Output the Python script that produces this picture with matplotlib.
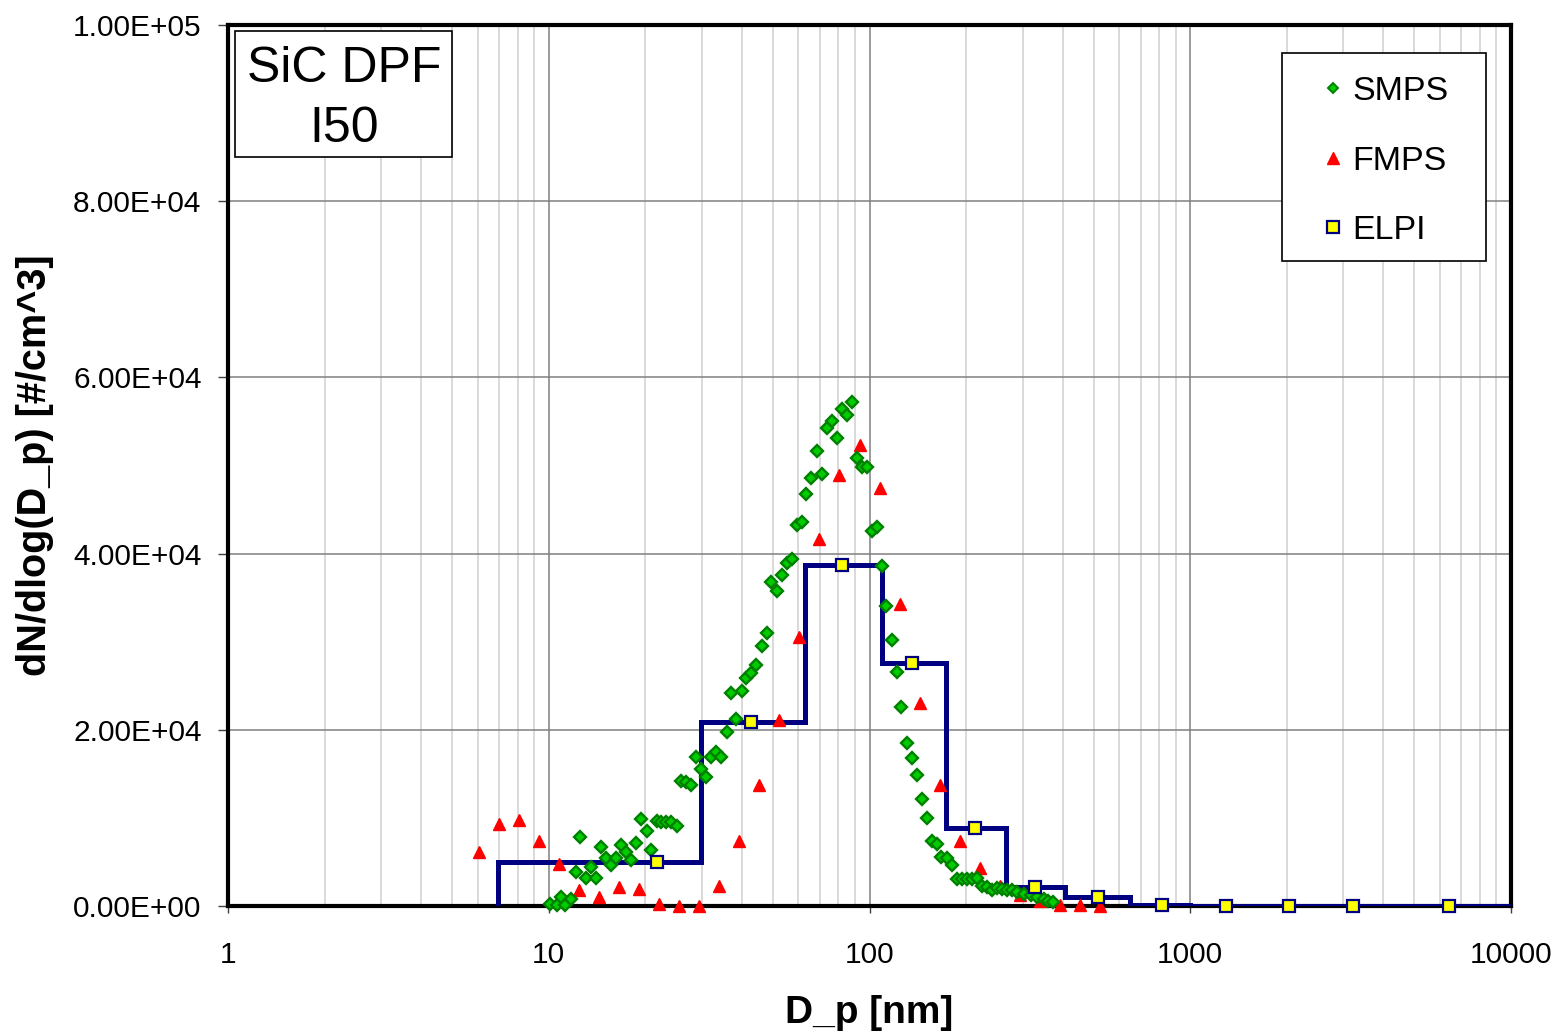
import matplotlib
matplotlib.use("Agg")
import matplotlib.pyplot as plt
from matplotlib.lines import Line2D
from matplotlib.patches import Rectangle
from matplotlib.ticker import FixedLocator, FuncFormatter, NullFormatter, LogLocator

plt.rcParams['font.family'] = ['Liberation Sans', 'DejaVu Sans']

# ---------------- data ----------------
smps_dp = [10.09, 10.59, 10.90, 11.24, 11.77, 12.14, 12.52, 13.04, 13.52, 14.01,
           14.53, 15.06, 15.61, 16.26, 16.77, 17.47, 18.02, 18.77, 19.45, 20.21,
           20.80, 21.71, 22.46, 23.17, 24.01, 25.06, 25.79, 26.74, 27.86, 28.88,
           29.93, 31.02, 32.00, 33.33, 34.55, 35.89, 36.93, 38.48, 39.97, 41.34,
           42.85, 44.42, 46.14, 47.83, 49.47, 51.38, 53.26, 55.21, 57.52, 59.32,
           61.49, 63.60, 65.92, 68.47, 70.98, 73.57, 76.66, 79.07, 81.96, 84.95,
           88.49, 91.27, 94.59, 98.04, 101.6, 105.3, 109.2, 112.9, 117.3, 121.6,
           125.8, 131.3, 135.4, 141.1, 145.5, 151.6, 156.1, 162.1, 167.6, 175.0,
           181.4, 187.1, 193.9, 201.0, 208.4, 216.0, 223.9, 232.1, 240.5, 249.3,
           258.4, 269.2, 279.0, 289.3, 302.6, 318.2, 333.9, 349.4, 360.0, 372.0]
smps_val = [200, 100, 1000, 100, 800, 3900, 7800, 3200, 4400, 3200,
            6700, 5500, 4700, 5400, 6900, 6100, 5200, 7100, 9900, 8500,
            6400, 9600, 9500, 9500, 9500, 9100, 14200, 14100, 13700, 16900,
            15600, 14600, 16900, 17500, 16900, 19800, 24200, 21200, 24400, 25900,
            26400, 27400, 29500, 31000, 36800, 35800, 37600, 38900, 39400, 43200,
            43600, 46800, 48600, 51600, 49000, 54300, 55100, 53100, 56400, 55700,
            57200, 50800, 49800, 49800, 42600, 43000, 38600, 34000, 30200, 26600,
            22600, 18500, 16800, 14900, 12200, 10000, 7400, 7000, 5600, 5500,
            4600, 3100, 3100, 3100, 3100, 3200, 2300, 2100, 1800, 2000,
            1900, 1800, 1800, 1600, 1400, 1200, 1000, 800, 600, 400]

fmps_dp = [6.04, 6.98, 8.06, 9.31, 10.8, 12.4, 14.3, 16.5, 19.1, 22.1, 25.5, 29.4,
           34.0, 39.2, 45.3, 52.3, 60.4, 69.8, 80.6, 93.1, 107.5, 124.1, 143.3,
           165.5, 191.1, 220.7, 254.8, 294.3, 339.8, 392.4, 453.2, 523.3]
fmps_val = [6100, 9300, 9800, 7400, 4800, 1800, 1000, 2100, 1900, 250, 0, 50,
            2300, 7400, 13700, 21100, 30500, 41700, 48900, 52300, 47500, 34300,
            23000, 13700, 7400, 4300, 2300, 1300, 600, 170, 60, 0]

elpi_dp = [21.8, 42.7, 82.1, 135.7, 213, 328, 516, 816, 1292, 2032, 3217, 6410]
elpi_val = [5000, 20900, 38700, 27600, 8850, 2150, 1050, 170, 50, 40, 30, 30]
elpi_edges = [6.95, 29.8, 62.9, 109.3, 173, 266, 407, 649, 1000, 1620, 2570, 4500, 10000]

x_ticks = [1, 10, 100, 1000, 10000]
y_ticks = [0, 20000, 40000, 60000, 80000, 100000]

# ---------------- figure ----------------
W, H = 1556, 1035
fig = plt.figure(figsize=(W / 100, H / 100), dpi=100)
L, R, T, B = 228, 1511, 25, 906
ax = fig.add_axes([L / W, 1 - B / H, (R - L) / W, (B - T) / H])

ax.set_xscale('log')
ax.set_xlim(1, 10000)
ax.set_ylim(0, 100000)

navy = '#000080'
ax.stairs(elpi_val, elpi_edges, baseline=0, color=navy, lw=3.6, zorder=3)
ax.plot(fmps_dp, fmps_val, ls='none', marker='^', ms=9, color='#FF0000',
        mec='#FF0000', zorder=4, clip_on=False)
ax.plot(smps_dp, smps_val, ls='none', marker='D', ms=5.8, mfc='#00CC00',
        mec='#008000', mew=1.7, zorder=5, clip_on=False)
ax.plot(elpi_dp, elpi_val, ls='none', marker='s', ms=8.5, mfc='#FFFF00',
        mec=navy, mew=1.6, zorder=6, clip_on=False)

# grid
ax.set_axisbelow(True)
ax.xaxis.set_major_locator(FixedLocator(x_ticks))
ax.xaxis.set_minor_locator(LogLocator(base=10, subs=range(2, 10), numticks=20))
ax.xaxis.set_minor_formatter(NullFormatter())
ax.xaxis.set_major_formatter(FuncFormatter(lambda v, p: f"{v:g}"))
ax.yaxis.set_major_locator(FixedLocator(y_ticks))
ax.yaxis.set_major_formatter(FuncFormatter(lambda v, p: f"{v:.2E}"))
ax.grid(True, which='major', axis='both', color='#808080', lw=1.1)
ax.grid(True, which='minor', axis='x', color='#D0D0D0', lw=1.1)

ax.tick_params(axis='x', which='major', direction='out', length=5, width=1,
               pad=20, labelsize=21.5, color='#404040')
ax.tick_params(axis='x', which='minor', length=0)
ax.tick_params(axis='y', which='major', direction='out', length=7, width=1,
               pad=12, labelsize=21.5, color='#404040')
for s in ax.spines.values():
    s.set_linewidth(3)
    s.set_color('black')
    s.set_zorder(2.5)

# axis titles
fig.text(35 / W, 1 - 465 / H, 'dN/dlog(D_p) [#/cm^3]', rotation=90,
         ha='center', va='center', fontsize=28.5, fontweight='bold')
fig.text(869 / W, 1 - 1013 / H, 'D_p [nm]', ha='center', va='center',
         fontsize=28, fontweight='bold')

# annotation box
fig.add_artist(Rectangle((235 / W, 1 - 157 / H), 217 / W, 126 / H,
                         transform=fig.transFigure, facecolor='white',
                         edgecolor='black', lw=1.2, zorder=10))
fig.text(344 / W, 1 - 69 / H, 'SiC DPF', ha='center', va='center', fontsize=36, zorder=11)
fig.text(344 / W, 1 - 129 / H, 'I50', ha='center', va='center', fontsize=36, zorder=11)

# legend
fig.add_artist(Rectangle((1282 / W, 1 - 261 / H), 204 / W, 208 / H,
                         transform=fig.transFigure, facecolor='white',
                         edgecolor='black', lw=1.2, zorder=10))
handles = [
    Line2D([], [], ls='none', marker='D', ms=5, mfc='#00CC00', mec='#008000', mew=1.4),
    Line2D([], [], ls='none', marker='^', ms=8.5, color='#FF0000'),
    Line2D([], [], ls='none', marker='s', ms=8, mfc='#FFFF00', mec=navy, mew=1.6),
]
leg = fig.legend(handles, ['SMPS', 'FMPS', 'ELPI'], loc='center left',
                 bbox_to_anchor=((1333 - 16.7) / W, 1 - 161 / H),
                 frameon=False, fontsize=24.5, handlelength=1.0, handletextpad=0.06,
                 borderpad=0, borderaxespad=0, labelspacing=1.12, numpoints=1)
leg.set_zorder(12)

fig.savefig('out.png', dpi=100)
